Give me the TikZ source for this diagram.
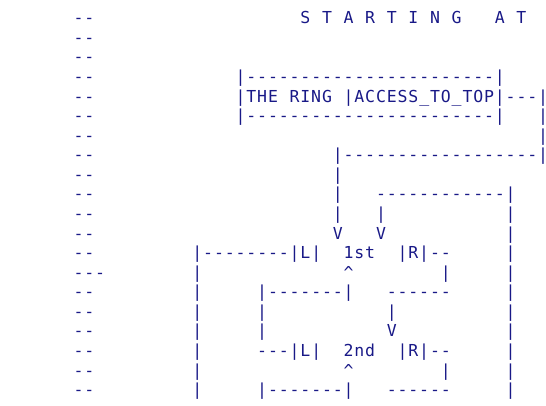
\documentclass[tikz,border=0pt]{standalone}
\usepackage{fontspec}
\setmonofont[LetterSpace=5.3]{DejaVu Sans Mono}
\definecolor{ink}{RGB}{25,25,135}

\begin{document}
\begin{tikzpicture}[x=10.8pt,y=-19.58pt,
  every node/.style={font=\ttfamily\fontsize{16.5}{19}\selectfont,text=ink,inner sep=0pt,anchor=base west}]
\useasboundingbox (-6.8,-1.2104) rectangle (43.756,19.525);
% left margin marks
\foreach \r in {0,...,12,14,15,...,19} \node (d\r) at (0,\r) {--};
\node (d13) at (0,13) {---};
% title
\foreach \c/\l [count=\i] in {21/S,23/T,25/A,27/R,29/T,31/I,33/N,35/G,39/A,41/T}
  \node (t\i) at (\c,0) {\l};
% the ring box
\node (ringtop) at (15,3) {|-----------------------|};
\node (ringa) at (15,4) {|THE};
\node (ringb) at (20,4) {RING};
\node (ringacc) at (25,4) {|ACCESS\_TO\_TOP|---|};
\node (ringbot) at (15,5) {|-----------------------|};
\node (rv5) at (43,5) {|};
\node (rv6) at (43,6) {|};
\node (back) at (24,7) {|------------------|};
\node (lv8) at (24,8) {|};
\node (lv9) at (24,9) {|};
\node (loop) at (28,9) {------------|};
\node (lv10) at (24,10) {|};
\node (mv10) at (28,10) {|};
\node (dn1) at (24,11) {V};
\node (dn2) at (28,11) {V};
% first level
\node (left1) at (11,12) {|--------|L|};
\node (first) at (25,12) {1st};
\node (right1) at (30,12) {|R|--};
\node (up1) at (25,13) {\textasciicircum};
\node (rr13) at (34,13) {|};
\node (lret1) at (17,14) {|-------|};
\node (rret1) at (29,14) {------};
\node (lv15) at (17,15) {|};
\node (mv15) at (29,15) {|};
\node (lv16) at (17,16) {|};
\node (dn3) at (29,16) {V};
% second level
\node (left2) at (17,17) {---|L|};
\node (second) at (25,17) {2nd};
\node (right2) at (30,17) {|R|--};
\node (up2) at (25,18) {\textasciicircum};
\node (rr18) at (34,18) {|};
\node (lret2) at (17,19) {|-------|};
\node (rret2) at (29,19) {------};
% long verticals
\foreach \r in {13,...,19} \node (ov\r) at (11,\r) {|};
\foreach \r in {10,...,19} \node (ev\r) at (40,\r) {|};
\end{tikzpicture}
\end{document}
